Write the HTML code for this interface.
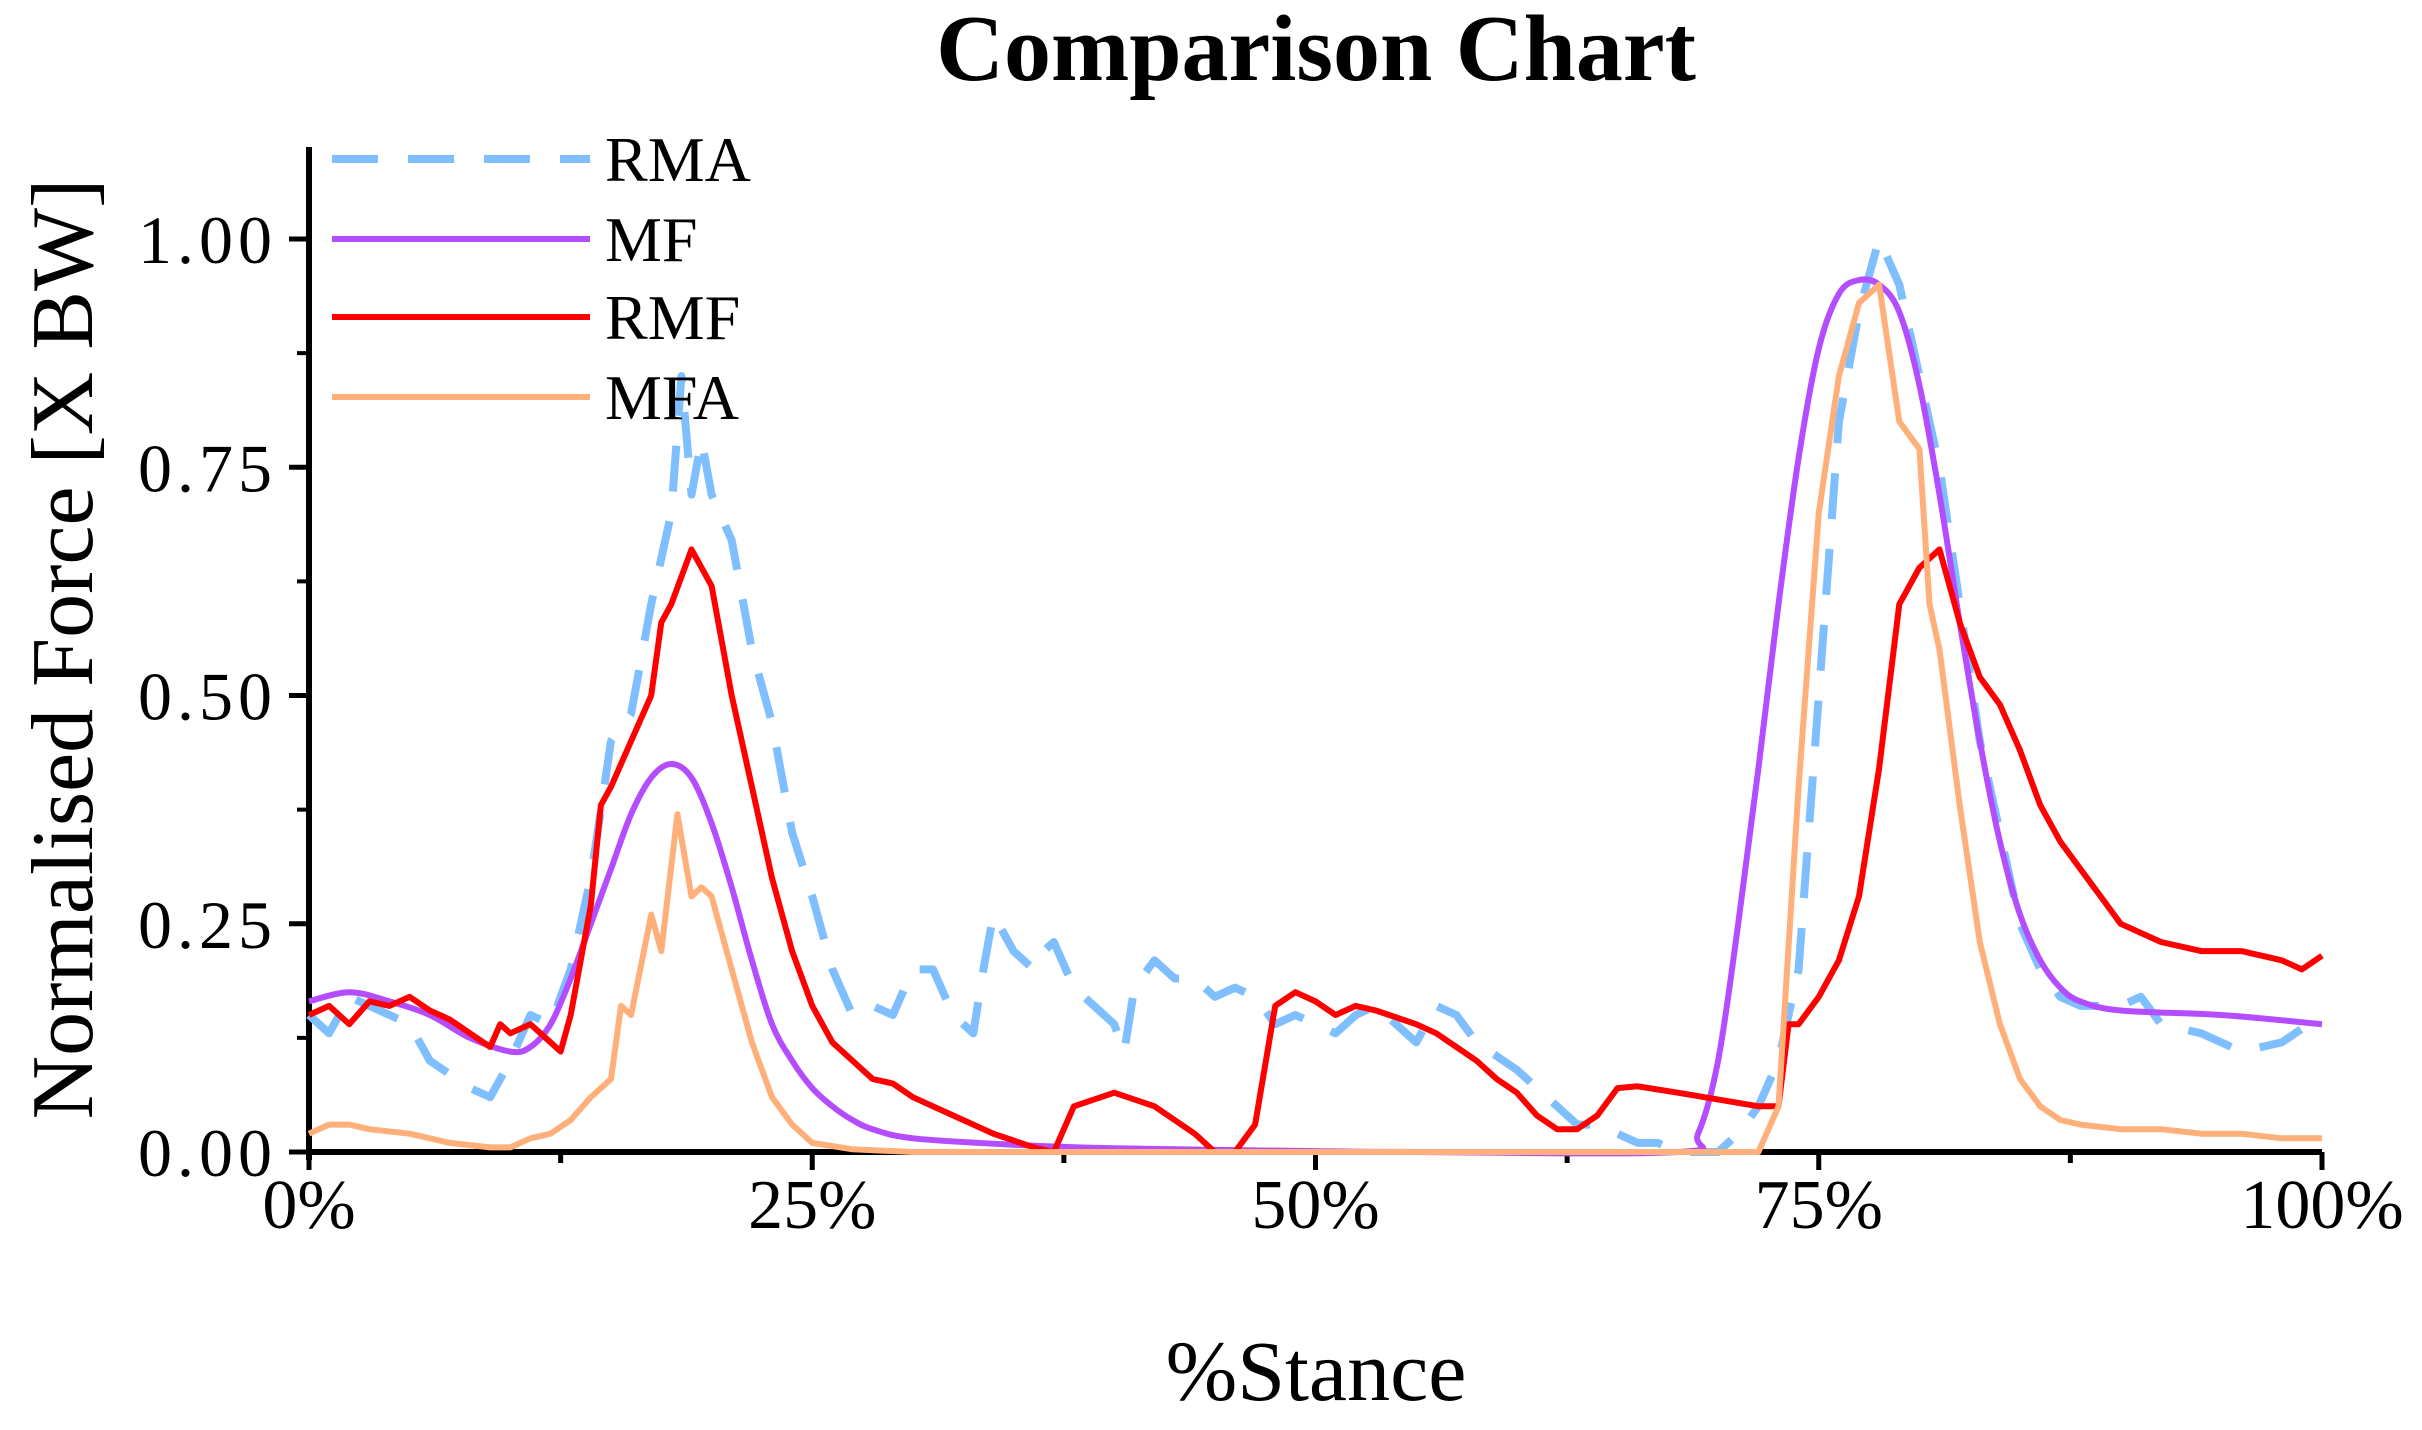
<!DOCTYPE html>
<html><head><meta charset="utf-8"><style>
html,body{margin:0;padding:0;background:#fff;}
svg{display:block;font-family:"Liberation Serif",serif;}
</style></head><body>
<svg id="chart" width="2422" height="1430" viewBox="0 0 2422 1430">
<text x="1316" y="80" text-anchor="middle" font-size="94" font-weight="bold">Comparison Chart</text>
<text transform="translate(92,649) rotate(-90)" text-anchor="middle" font-size="88">Normalised Force [X BW]</text>
<text x="1316" y="1400" text-anchor="middle" font-size="86">%Stance</text>
<g id="axes"></g>
<g id="series"></g>
<g id="legend"></g>
</svg>
<script>
const xTicks=[0,25,50,75,100];
const xTickLabels=["0%","25%","50%","75%","100%"];
const yTicks=[0,0.25,0.5,0.75,1.0];
const yTickLabels=["0.00","0.25","0.50","0.75","1.00"];
const seriesNames=["RMA","MF","RMF","MFA"];
const rmaX=[0,1,2,3,5,6,8,9,10,11,12,13,14,15,16,17,18,18.5,19,19.5,20,21,22,23,24,25,26,27,28,29,30,31,32,33,33.5,34,35,36,36.5,37,38,39,40,40.5,41,42,43,44,45,46,47,48,49,50,51,52,53,54,55,56,57,58,60,62,63,64,65,66,67,68,70,71,72,73,74,75,76,77,78,79,80,81,82,83,84,85,86,87,88,90,91,92,94,96,98,100];
const rmaY=[0.15,0.13,0.17,0.16,0.14,0.1,0.07,0.06,0.1,0.15,0.14,0.2,0.3,0.45,0.48,0.6,0.7,0.85,0.72,0.78,0.72,0.67,0.55,0.47,0.35,0.28,0.2,0.15,0.16,0.15,0.2,0.2,0.15,0.13,0.2,0.26,0.22,0.2,0.22,0.23,0.18,0.16,0.14,0.11,0.18,0.21,0.19,0.19,0.17,0.18,0.17,0.14,0.15,0.14,0.13,0.15,0.16,0.14,0.12,0.16,0.15,0.12,0.09,0.05,0.03,0.03,0.02,0.01,0.01,0,0,0.02,0.05,0.1,0.2,0.5,0.8,0.92,1.0,0.95,0.85,0.75,0.6,0.45,0.35,0.25,0.2,0.17,0.16,0.16,0.17,0.14,0.13,0.11,0.12,0.15];
const mfX=[0,2,4,6,8,10,11,12,13,14,15,16,17,18,19,20,21,22,23,24,25,26,27,28,30,35,40,50,55,68,69,70,71,72,73,74,75,76,77,78,79,80,81,82,83,84,85,86,87,88,90,95,100];
const mfY=[0.165,0.175,0.165,0.15,0.125,0.11,0.115,0.14,0.19,0.25,0.31,0.37,0.41,0.425,0.41,0.36,0.29,0.21,0.14,0.1,0.07,0.05,0.035,0.025,0.015,0.008,0.004,0.001,0,0,0.02,0.1,0.25,0.42,0.6,0.76,0.88,0.94,0.955,0.95,0.92,0.84,0.72,0.58,0.45,0.34,0.26,0.21,0.18,0.165,0.155,0.15,0.14];
const rmfX=[0,1,2,3,4,5,6,7,8,9,9.5,10,11,12,12.5,13,14,14.5,15,16,17,17.5,18,19,20,21,22,23,24,25,26,27,28,29,30,32,34,36,37,38,40,42,44,45,46,47,48,49,50,51,52,53,55,56,57,58,59,60,61,62,63,64,65,66,68,72,73,73.5,74,75,76,77,78,79,80,81,82,83,84,85,86,87,88,89,90,92,94,96,98,99,100];
const rmfY=[0.15,0.16,0.14,0.165,0.16,0.17,0.155,0.145,0.13,0.115,0.14,0.13,0.14,0.12,0.11,0.15,0.27,0.38,0.4,0.45,0.5,0.58,0.6,0.66,0.62,0.5,0.4,0.3,0.22,0.16,0.12,0.1,0.08,0.075,0.06,0.04,0.02,0.005,0,0.05,0.065,0.05,0.02,0,0,0.03,0.16,0.175,0.165,0.15,0.16,0.155,0.14,0.13,0.115,0.1,0.08,0.065,0.04,0.025,0.025,0.04,0.07,0.072,0.065,0.05,0.05,0.14,0.14,0.17,0.21,0.28,0.42,0.6,0.64,0.66,0.58,0.52,0.49,0.44,0.38,0.34,0.31,0.28,0.25,0.23,0.22,0.22,0.21,0.2,0.215];
const mfaX=[0,1,2,3,5,7,9,10,11,12,13,14,15,15.5,16,17,17.5,18.3,19,19.5,20,21,22,23,24,25,27,30,72,73,74,75,76,77,78,79,80,80.5,81,82,83,84,85,86,87,88,90,92,94,96,98,100];
const mfaY=[0.02,0.03,0.03,0.025,0.02,0.01,0.005,0.005,0.015,0.02,0.035,0.06,0.08,0.16,0.15,0.26,0.22,0.37,0.28,0.29,0.28,0.2,0.12,0.06,0.03,0.01,0.003,0,0,0.05,0.4,0.7,0.85,0.93,0.95,0.8,0.77,0.6,0.55,0.38,0.23,0.14,0.08,0.05,0.035,0.03,0.025,0.025,0.02,0.02,0.015,0.015];

const NS="http://www.w3.org/2000/svg";
const X0=309,X1=2322,Y0=1152,Y1=239,YTOP=147;
function sx(v){return X0+(X1-X0)*v/100;}
function sy(v){return Y0-(Y0-Y1)*v;}
function mk(tag,attrs,parent){const e=document.createElementNS(NS,tag);for(const k in attrs)e.setAttribute(k,attrs[k]);parent.appendChild(e);return e;}
function linePath(xs,ys){return xs.map((x,j)=>(j?'L':'M')+sx(x).toFixed(1)+','+sy(ys[j]).toFixed(1)).join(' ');}
function smoothPath(xs,ys){
  const P=xs.map((x,j)=>[sx(x),sy(ys[j])]);
  let d='M'+P[0][0].toFixed(1)+','+P[0][1].toFixed(1);
  for(let i=0;i<P.length-1;i++){
    const p0=P[Math.max(0,i-1)],p1=P[i],p2=P[i+1],p3=P[Math.min(P.length-1,i+2)];
    const c1=[p1[0]+(p2[0]-p0[0])/6,p1[1]+(p2[1]-p0[1])/6];
    const c2=[p2[0]-(p3[0]-p1[0])/6,p2[1]-(p3[1]-p1[1])/6];
    d+=' C'+c1[0].toFixed(1)+','+c1[1].toFixed(1)+' '+c2[0].toFixed(1)+','+c2[1].toFixed(1)+' '+p2[0].toFixed(1)+','+p2[1].toFixed(1);
  }
  return d;
}
const axes=document.getElementById('axes');
let e=mk('line',{x1:X0,y1:YTOP,x2:X0,y2:Y0+8,stroke:'#000','stroke-width':6},axes);


e=mk('line',{x1:X0-3,y1:Y0,x2:X1,y2:Y0,stroke:'#000','stroke-width':6},axes);


yTicks.forEach((t,i)=>{
  const y=sy(t);
  let l=mk('line',{x1:X0-20,y1:y,x2:X0,y2:y,stroke:'#000','stroke-width':5},axes);
  
  
  if(i<yTicks.length-1){const m=mk('line',{x1:X0-12,y1:sy(t+0.125),x2:X0,y2:sy(t+0.125),stroke:'#000','stroke-width':4},axes);
  
  }
  const tx=mk('text',{x:X0-32,y:y+24,'text-anchor':'end','font-size':68,'letter-spacing':'5'},axes);
  tx.textContent=yTickLabels[i];
  
  
});
xTicks.forEach((t,i)=>{
  const x=sx(t);
  let l=mk('line',{x1:x,y1:Y0,x2:x,y2:Y0+18,stroke:'#000','stroke-width':5},axes);
  
  
  if(i<xTicks.length-1){const m=mk('line',{x1:sx(t+12.5),y1:Y0,x2:sx(t+12.5),y2:Y0+11,stroke:'#000','stroke-width':5},axes);
  
  }
  const tx=mk('text',{x:x,y:1228,'text-anchor':'middle','font-size':70},axes);
  tx.textContent=xTickLabels[i];
  
  
});
const styles=[
 {xs:rmaX,ys:rmaY,c:'#80bfff',w:8,d:'46 30',sm:false},
 {xs:mfX,ys:mfY,c:'#b44cff',w:6,d:'',sm:true},
 {xs:rmfX,ys:rmfY,c:'#ff0000',w:6,d:'',sm:false},
 {xs:mfaX,ys:mfaY,c:'#ffb07a',w:6,d:'',sm:false}];
const sg=document.getElementById('series');
const lg=document.getElementById('legend');
const legY=[159,239,317,397];
styles.forEach((s,i)=>{
  const d=s.sm?smoothPath(s.xs,s.ys):linePath(s.xs,s.ys);
  const p=mk('path',{d:d,fill:'none',stroke:s.c,'stroke-width':s.w,'stroke-linejoin':'round'},sg);
  if(s.d)p.setAttribute('stroke-dasharray',s.d);
  
  
  const ll=mk('line',{x1:332,y1:legY[i],x2:590,y2:legY[i],stroke:s.c,'stroke-width':s.w},lg);
  if(s.d)ll.setAttribute('stroke-dasharray',s.d);
  
  
  const t=mk('text',{x:605,y:legY[i]+22,'font-size':64},lg);
  t.textContent=seriesNames[i];
  
  
});
</script>
</body></html>
